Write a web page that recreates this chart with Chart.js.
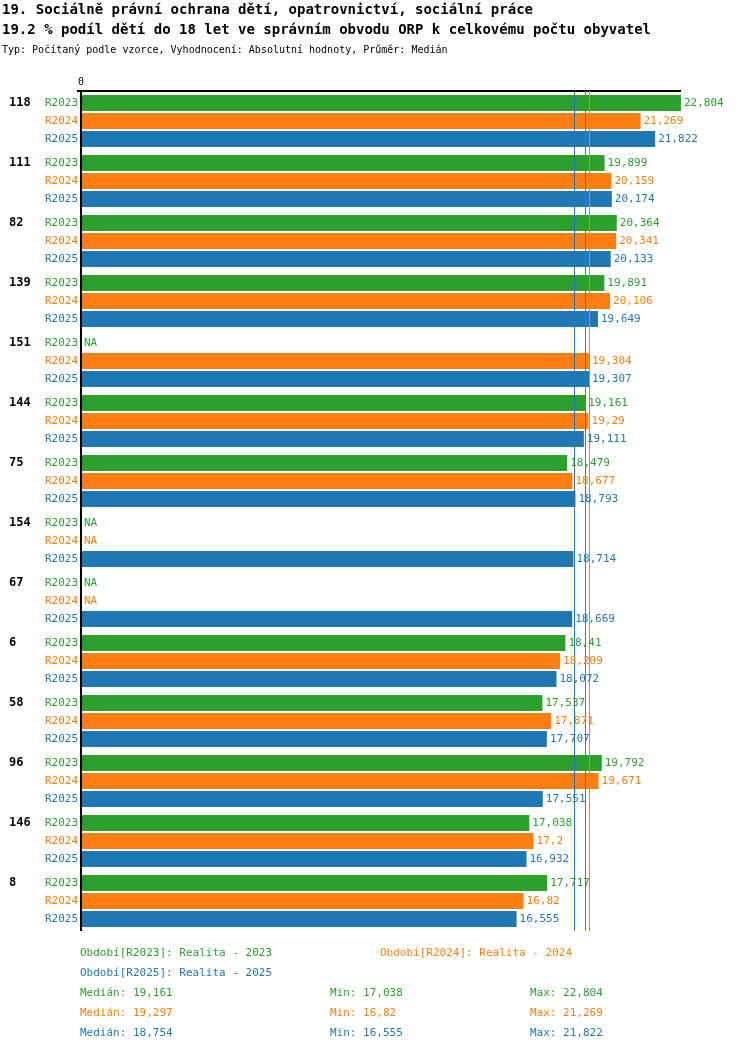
<!DOCTYPE html>
<html><head><meta charset="utf-8">
<script src="https://cdn.jsdelivr.net/npm/chart.js@4"></script>
<style>body{margin:0;background:#fff}</style>
</head><body>
<canvas id="c" width="750" height="1052"></canvas>
<script>
const groups = ['118','111','82','139','151','144','75','154','67','6','58','96','146','8'];
const seriesNames = ['R2023','R2024','R2025'];
const colors = ['#2ca02c','#ff7f0e','#1f77b4'];
const r2023 = [22.804,19.899,20.364,19.891,null,19.161,18.479,null,null,18.41,17.537,19.792,17.038,17.717];
const r2024 = [21.269,20.159,20.341,20.106,19.304,19.29,18.677,null,null,18.209,17.871,19.671,17.2,16.82];
const r2025 = [21.822,20.174,20.133,19.649,19.307,19.111,18.793,18.714,18.669,18.072,17.707,17.551,16.932,16.555];
const medians = [19.161,19.297,18.754];
const mins = ['17,038','16,82','16,555'];
const maxs = ['22,804','21,269','21,822'];
const periods = ['Období[R2023]: Realita - 2023','Období[R2024]: Realita - 2024','Období[R2025]: Realita - 2025'];
const MONO = '"DejaVu Sans Mono", monospace';
const fmt = v => String(v).replace('.', ',');

const overlay = {
  id: 'overlay',
  afterDatasetsDraw(chart) {
    const ctx = chart.ctx, xs = chart.scales.x, ys = chart.scales.y, a = chart.chartArea;
    ctx.save();
    // titles
    ctx.fillStyle = '#000'; ctx.textBaseline = 'middle'; ctx.textAlign = 'left';
    ctx.font = 'bold 14px ' + MONO;
    ctx.fillText('19. Sociálně právní ochrana dětí, opatrovnictví, sociální práce', 2, 10);
    ctx.fillText('19.2 % podíl dětí do 18 let ve správním obvodu ORP k celkovému počtu obyvatel', 2, 30);
    ctx.font = '10px ' + MONO;
    ctx.fillText('Typ: Počítaný podle vzorce, Vyhodnocení: Absolutní hodnoty, Průměr: Medián', 2, 50);
    // axes
    const x0 = xs.getPixelForValue(0);
    ctx.strokeStyle = '#000'; ctx.lineWidth = 2;
    ctx.beginPath(); ctx.moveTo(x0, a.top); ctx.lineTo(x0, a.bottom); ctx.stroke();
    ctx.beginPath(); ctx.moveTo(x0 - 4, a.top); ctx.lineTo(a.right, a.top); ctx.stroke();
    ctx.font = '10px ' + MONO; ctx.textAlign = 'center';
    ctx.fillText('0', x0, a.top - 9);
    // medians
    ctx.lineWidth = 1;
    medians.forEach((m, i) => {
      const x = Math.round(xs.getPixelForValue(m)) + 0.5;
      ctx.strokeStyle = colors[i];
      ctx.beginPath(); ctx.moveTo(x, a.top); ctx.lineTo(x, a.bottom); ctx.stroke();
    });
    // labels
    groups.forEach((g, gi) => {
      ctx.fillStyle = '#000'; ctx.font = 'bold 12px ' + MONO; ctx.textAlign = 'left';
      ctx.fillText(g, 9, ys.getPixelForValue(gi) - 18);
    });
    chart.data.datasets.forEach((ds, di) => {
      const meta = chart.getDatasetMeta(di);
      meta.data.forEach((bar, gi) => {
        const y = bar.y, v = ds.data[gi];
        ctx.fillStyle = colors[di]; ctx.font = '11px ' + MONO;
        ctx.textAlign = 'right';
        ctx.fillText(seriesNames[di], x0 - 3, y);
        ctx.textAlign = 'left';
        if (v == null) ctx.fillText('NA', x0 + 3, y);
        else ctx.fillText(fmt(v), xs.getPixelForValue(v) + 3, y);
      });
    });
    // footer
    ctx.font = '11px ' + MONO; ctx.textAlign = 'left';
    ctx.fillStyle = colors[0]; ctx.fillText(periods[0], 80, 953);
    ctx.fillStyle = colors[1]; ctx.fillText(periods[1], 380, 953);
    ctx.fillStyle = colors[2]; ctx.fillText(periods[2], 80, 973);
    medians.forEach((m, i) => {
      const y = 993 + i * 20;
      ctx.fillStyle = colors[i];
      ctx.fillText('Medián: ' + fmt(m), 80, y);
      ctx.fillText('Min: ' + mins[i], 330, y);
      ctx.fillText('Max: ' + maxs[i], 530, y);
    });
    ctx.restore();
  }
};

new Chart(document.getElementById('c'), {
  type: 'bar',
  data: {
    labels: groups,
    datasets: [r2023, r2024, r2025].map((d, i) => ({
      label: seriesNames[i], data: d, backgroundColor: colors[i],
      categoryPercentage: 0.9, barPercentage: 0.89
    }))
  },
  options: {
    indexAxis: 'y', responsive: false, animation: false,
    layout: { padding: { left: 81, top: 91, right: 69, bottom: 121 } },
    scales: {
      x: { display: false, min: 0, max: 22.804 },
      y: { display: false }
    },
    plugins: { legend: { display: false }, tooltip: { enabled: false } }
  },
  plugins: [overlay]
});
</script>
</body></html>
